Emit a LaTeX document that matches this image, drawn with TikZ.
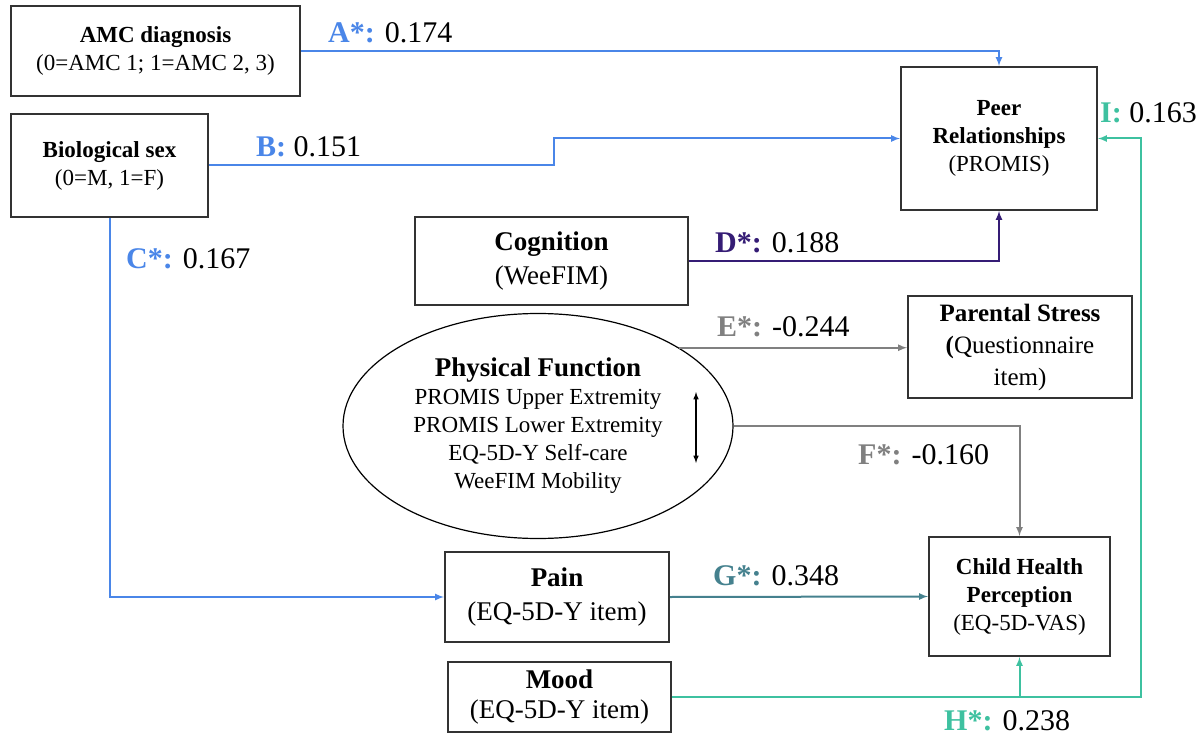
\documentclass[tikz,border=0pt]{standalone}
\usepackage{fontspec}
\setmainfont{Liberation Serif}
\usepackage{xcolor}
\usetikzlibrary{arrows,shapes.geometric}

\definecolor{pathblue}{HTML}{4A86E8}
\definecolor{pathpurple}{HTML}{351C75}
\definecolor{pathgray}{HTML}{808080}
\definecolor{pathteal}{HTML}{45818E}
\definecolor{pathgreen}{HTML}{3EC1A0}
\definecolor{boxline}{HTML}{333333}

\begin{document}
\begin{tikzpicture} [x = 1pt, y = -1pt,
	box/.style = {draw = boxline, line width = 2pt, align = center, inner sep = 2pt},
	small/.style = {font = \fontsize{23}{28}\selectfont},
	big/.style = {font = \fontsize{27}{34}\selectfont},
	coef/.style = {font = \fontsize{30}{30}\selectfont, anchor = base west, inner sep = 0pt},
	link/.style = {line width = 2pt, -latex}]
	\useasboundingbox (0,0) rectangle (1199,735);
	\node [box, small, minimum width = 289pt, minimum height = 90pt] (amc) at (155.5,51) {\textbf{AMC diagnosis}\\(0=AMC 1; 1=AMC 2, 3)};
	\node [box, small, minimum width = 197pt, minimum height = 103pt] (bio) at (109.5,165.5) {\textbf{Biological sex}\\(0=M, 1=F)};
	\node [box, small, minimum width = 196pt, minimum height = 143pt] (peer) at (999,138.5) {\textbf{Peer}\\\textbf{Relationships}\\(PROMIS)};
	\node [box, big, minimum width = 273pt, minimum height = 88pt] (cog) at (551.5,261) {\textbf{Cognition}\\(WeeFIM)};
	\node [box, font = \fontsize{25}{32}\selectfont, minimum width = 224pt, minimum height = 102pt] (stress) at (1020,347) {\textbf{Parental Stress}\\\textbf{(}Questionnaire\\item)};
	\node [ellipse, draw, line width = 1.2pt, align = center, small, minimum width = 390pt, minimum height = 225pt, inner sep = 0pt] (phys) at (538,426) {{\fontsize{27}{30}\selectfont\textbf{Physical Function}}\\PROMIS Upper Extremity\\PROMIS Lower Extremity\\EQ-5D-Y Self-care\\WeeFIM Mobility};
	\node [box, big, minimum width = 224pt, minimum height = 90pt] (pain) at (557,597) {\textbf{Pain}\\(EQ-5D-Y item)};
	\node [box, font = \fontsize{27}{30}\selectfont, minimum width = 223pt, minimum height = 70pt] (mood) at (559.5,697) {\textbf{Mood}\\(EQ-5D-Y item)};
	\node [box, small, minimum width = 181pt, minimum height = 119pt] (child) at (1019.5,596.5) {\textbf{Child Health}\\\textbf{Perception}\\(EQ-5D-VAS)};

	\coordinate (bstep) at (554,138.5);
	\coordinate (icorner) at (1141,697);
	\coordinate (pfup) at (696,392);
	\coordinate (pfdown) at (696,463);

	\draw [link, pathblue] (amc.east) -| (peer.north);
	\draw [link, pathblue] (bio.east) -| (bstep) -- (peer.west);
	\draw [link, pathblue] (bio.south) |- (pain.west);
	\draw [link, pathpurple] (cog.east) -| (peer.south);
	\draw [link, pathgray] (phys.29) -- (phys.29 -| stress.west);
	\draw [link, pathgray] (phys.east) -| (child.north);
	\draw [link, pathteal] (pain.east) -- (child.west);
	\draw [link, pathgreen] (mood.east) -| (child.south);
	\draw [link, pathgreen] (mood.east) -- (icorner) |- (peer.east);
	\draw [line width = 1.5pt, latex-latex] (pfup) -- (pfdown);

	\node [coef] (labA) at (328,43) {\textcolor{pathblue}{\textbf{A*:}} 0.174};
	\node [coef] (labB) at (256,157) {\textcolor{pathblue}{\textbf{B:}} 0.151};
	\node [coef] (labC) at (126,269) {\textcolor{pathblue}{\textbf{C*:}} 0.167};
	\node [coef] (labD) at (715,253) {\textcolor{pathpurple}{\textbf{D*:}} 0.188};
	\node [coef] (labE) at (717,336) {\textcolor{pathgray}{\textbf{E*:}} -0.244};
	\node [coef] (labF) at (858,464) {\textcolor{pathgray}{\textbf{F*:}} -0.160};
	\node [coef] (labG) at (713,585) {\textcolor{pathteal}{\textbf{G*:}} 0.348};
	\node [coef] (labH) at (944,730) {\textcolor{pathgreen}{\textbf{H*:}} 0.238};
	\node [coef] (labI) at (1100,123) {\textcolor{pathgreen}{\textbf{I:}} 0.163};
\end{tikzpicture}
\end{document}
